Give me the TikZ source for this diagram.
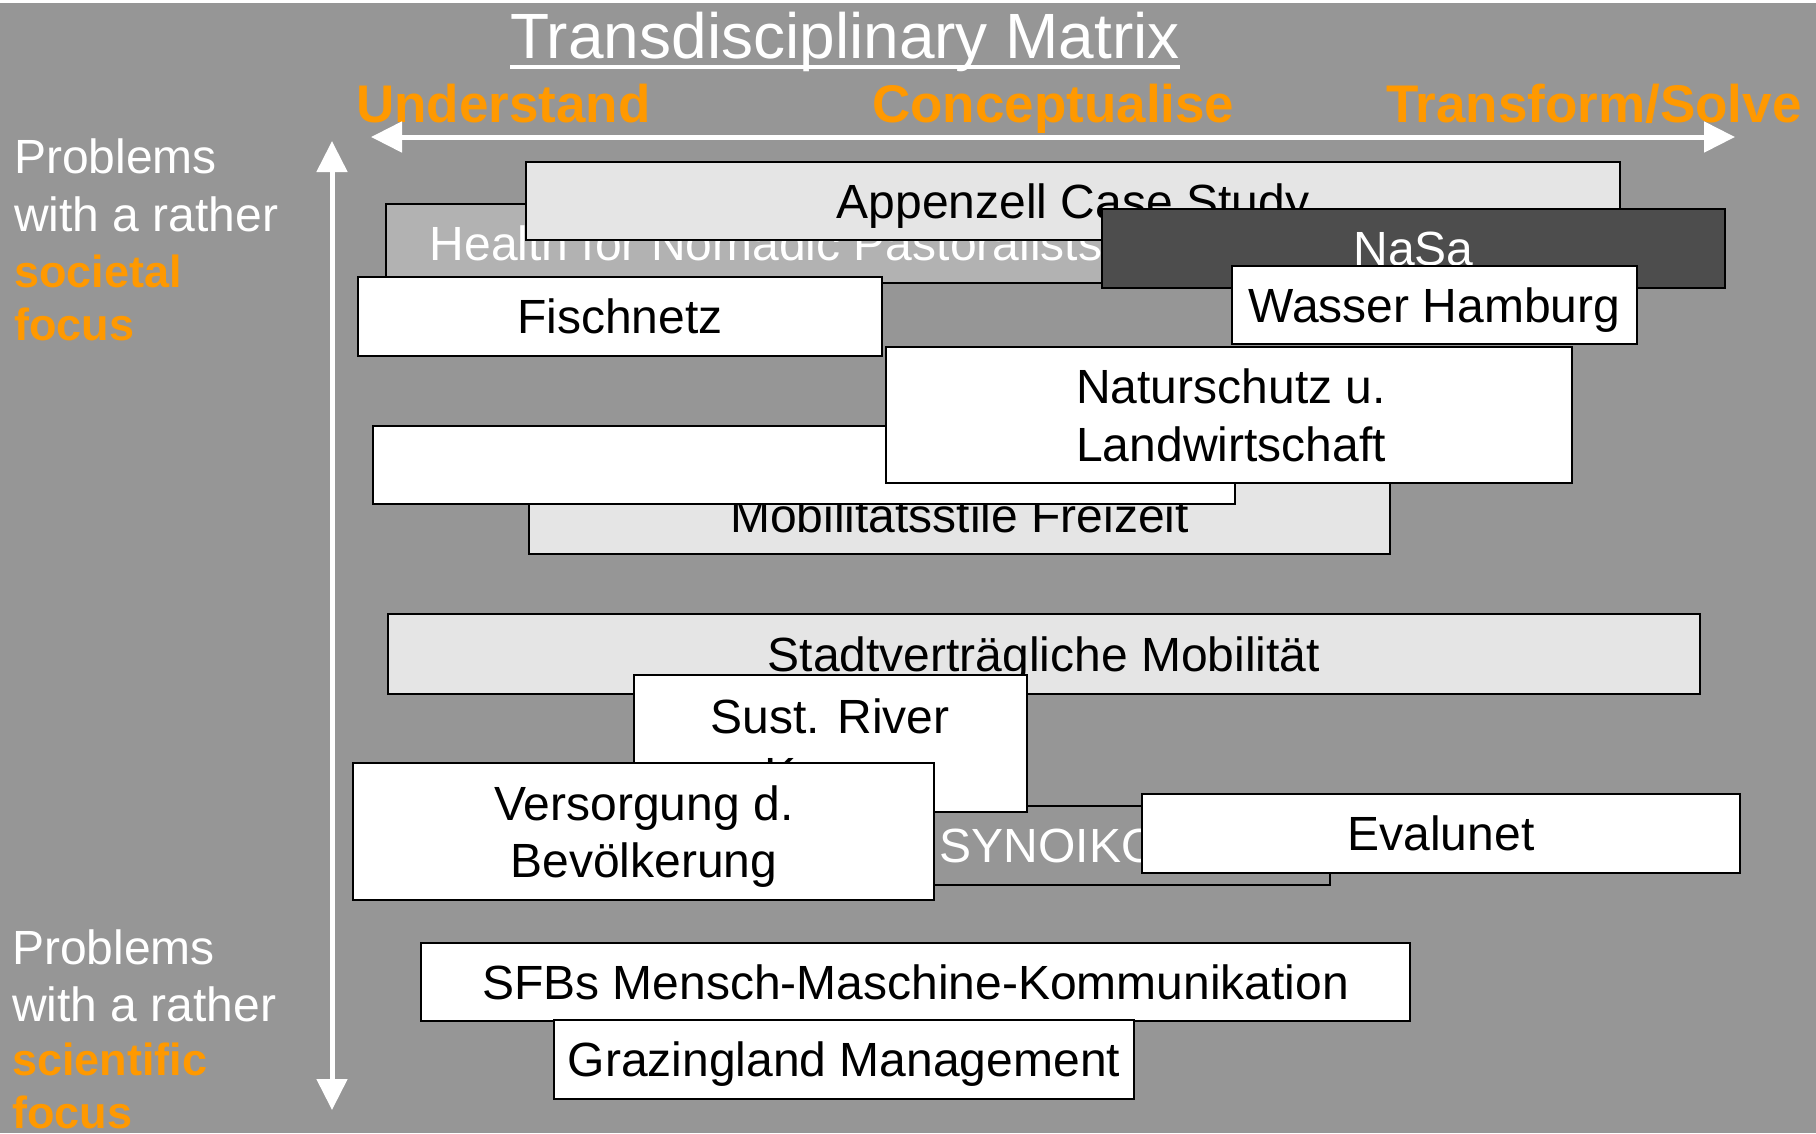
\documentclass[tikz,border=0pt]{standalone}
\usepackage{fontspec}
\setmainfont{Liberation Sans}
\usetikzlibrary{arrows.meta}
\definecolor{bg}{HTML}{969696}
\definecolor{lightbox}{HTML}{E5E5E5}
\definecolor{midbox}{HTML}{B2B2B2}
\definecolor{darkbox}{HTML}{4D4D4D}
\definecolor{orangetxt}{HTML}{FF9900}
\newcommand{\boxfont}{\fontsize{48}{57}\selectfont}
\newcommand{\sidefont}{\fontsize{48}{56}\selectfont}
\newcommand{\sideboldfont}{\fontsize{45}{54}\selectfont\bfseries}
\newcommand{\headfont}{\fontsize{53}{60}\selectfont\bfseries}
\newcommand{\titlefont}{\fontsize{64}{72}\selectfont}
\begin{document}
\begin{tikzpicture}[x=1pt,y=-1pt,
 pbox/.style={draw=black, line width=2pt, rectangle, inner sep=0pt, font=\boxfont, text=black, fill=white, text height=34.4pt, text depth=0pt},
 lbl/.style={inner sep=0pt, font=\boxfont, text=black, anchor=base},
 side/.style={inner sep=0pt, font=\sidefont, text=white, anchor=base west},
 sidebold/.style={side, text=orangetxt, font=\sideboldfont},
 head/.style={inner sep=0pt, font=\headfont, text=orangetxt, anchor=base west},
 axis/.style={draw=white, line width=5pt, {Triangle[length=31pt,width=30pt]}-{Triangle[length=31pt,width=30pt]}}
]
\useasboundingbox (0,0) rectangle (1816,1133);
\fill[bg] (0,0) rectangle (1816,1133);
\fill[white] (0,0) rectangle (1816,3);

% title and headings
\node[inner sep=0pt, font=\titlefont, text=white, anchor=base west] (title) at (510,58) {Transdisciplinary Matrix};
\draw[white, line width=4pt] ([yshift=-9pt]title.base west) -- ([yshift=-9pt]title.base east);
\node[head] (und) at (356,122) {Understand};
\node[head] (con) at (872,122) {Conceptualise};
\node[head] (tra) at (1386,122) {Transform/Solve};

% axes
\coordinate (hl) at (371,137);
\coordinate (hr) at (1735,137);
\coordinate (vt) at (332,141);
\coordinate (vb) at (332,1110);
\draw[axis] (hl) -- (hr);
\draw[axis] (vt) -- (vb);

% side texts
\node[side] (s1) at (14,173) {Problems};
\node[side] (s2) at (14,231) {with a rather};
\node[sidebold] (s3) at (14,287) {societal};
\node[sidebold] (s4) at (14,340) {focus};
\node[side] (b1) at (12,964) {Problems};
\node[side] (b2) at (12,1021) {with a rather};
\node[sidebold] (b3) at (12,1075) {scientific};
\node[sidebold] (b4) at (12,1128) {focus};

% upper group
\node[pbox, fill=midbox, text=white, minimum width=760pt, minimum height=79pt] (health) at (766,243.5) {Health for Nomadic Pastoralists};
\node[pbox, fill=lightbox, minimum width=1094pt, minimum height=78pt] (appen) at (1073,201) {Appenzell Case Study};
\node[pbox, fill=darkbox, text=white, minimum width=623pt, minimum height=79pt] (nasa) at (1413.5,248.5) {NaSa};
\node[pbox, minimum width=405pt, minimum height=78pt] (wasser) at (1434.5,305) {Wasser Hamburg};
\node[pbox, minimum width=524pt, minimum height=79pt] (fisch) at (620,316.5) {Fischnetz};

\node[pbox, fill=lightbox, minimum width=861pt, minimum height=78pt] (mobil) at (959.5,515) {Mobilitätsstile Freizeit};
\node[pbox, minimum width=862pt, minimum height=78pt] (blank) at (804,465) {};
\node[pbox, minimum width=686pt, minimum height=136pt] (natur) at (1229,415) {};
\node[lbl] (natur1) at (1231,403) {Naturschutz u.};
\node[lbl] (natur2) at (1231,461) {Landwirtschaft};

% middle group
\node[pbox, fill=lightbox, minimum width=1312pt, minimum height=80pt] (stadt) at (1044,654) {Stadtverträgliche Mobilität};
\node[pbox, fill=bg, text=white, minimum width=530pt, minimum height=79pt] (syn) at (1065,845.5) {SYNOIKOS};
\node[pbox, minimum width=393pt, minimum height=137pt] (sust) at (830.5,743.5) {};
\node[lbl] (sust1) at (830,733) {Sust. River};
\node[lbl] (sust2) at (830,791) {K\phantom{inzig}};
\node[pbox, minimum width=581pt, minimum height=137pt] (vers) at (643.5,831.5) {};
\node[lbl] (vers1) at (644,820) {Versorgung d.};
\node[lbl] (vers2) at (644,877) {Bevölkerung};
\node[pbox, minimum width=598pt, minimum height=79pt] (eval) at (1441,833.5) {Evalunet};

% lower group
\node[pbox, minimum width=989pt, minimum height=78pt] (sfb) at (915.5,982) {SFBs Mensch-Maschine-Kommunikation};
\node[pbox, minimum width=580pt, minimum height=79pt] (graz) at (844,1059.5) {Grazingland Management};
\end{tikzpicture}
\end{document}
